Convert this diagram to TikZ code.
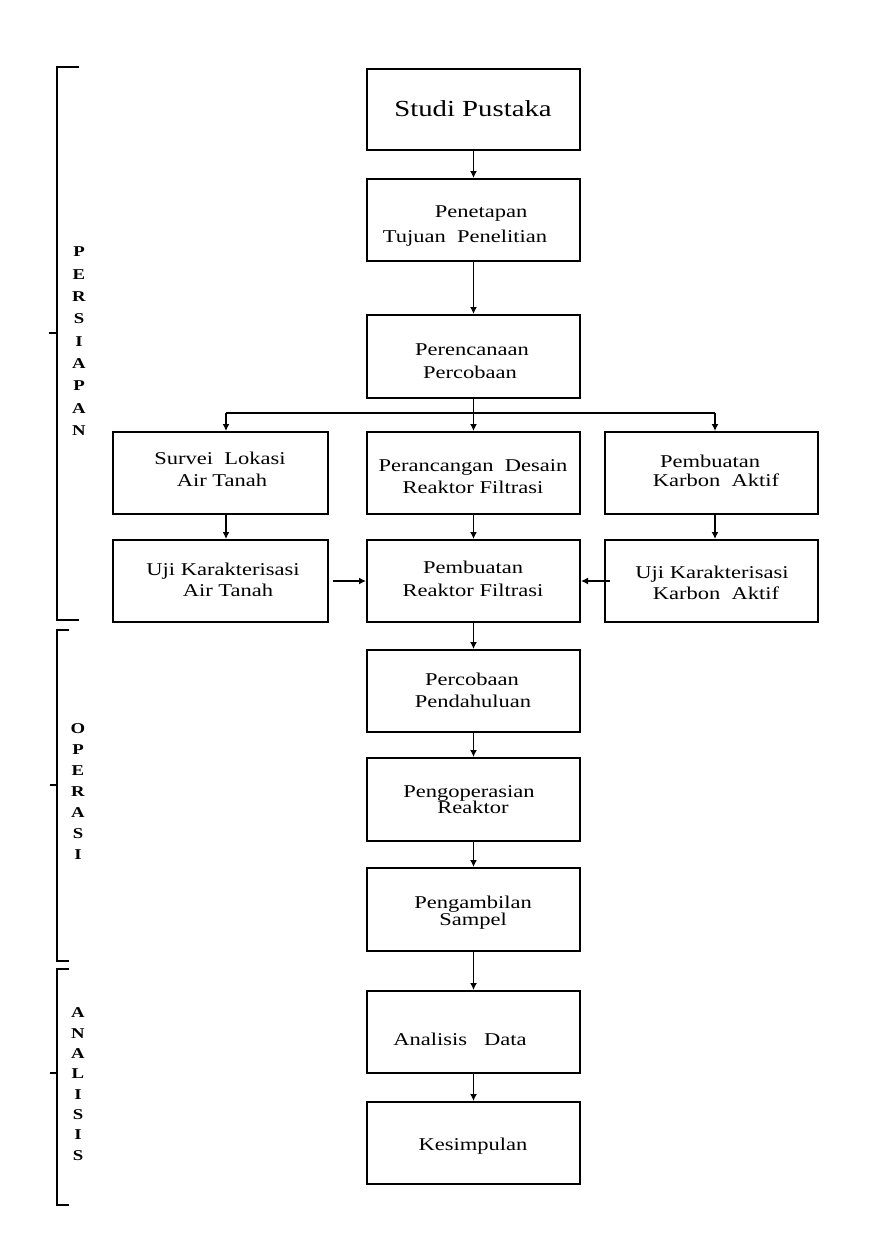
\documentclass[tikz,border=0pt]{standalone}
\usepackage{fontspec}
\setmainfont{Liberation Serif}[FakeStretch=1.25]
\usetikzlibrary{arrows.meta}
\newcommand\mybox[5]{\node[box,minimum width={(#4-#2)*0.5pt},minimum height={(#5-#3)*0.5pt}] (#1) at ({(#2+#4)/2},{(#3+#5)/2}) {};}
\begin{document}
\begin{tikzpicture}[x=0.5pt,y=-0.5pt,
  box/.style={draw=black,line width=1pt,inner sep=0pt},
  txt/.style={inner sep=0pt,font=\fontsize{9}{10}\selectfont,text height=0.7em,text depth=0.2em},
  big/.style={inner sep=0pt,font=\fontsize{11.5}{13}\selectfont,text height=0.7em,text depth=0.2em},
  arr/.style={line width=0.75pt,-{Latex[length=3.5pt,width=3.5pt]}},
  ln/.style={line width=0.75pt},
  brk/.style={line width=0.8pt},
  let/.style={inner sep=0pt,font=\bfseries\fontsize{7.5}{8}\selectfont}
]
\fill[white] (0,0) rectangle (870,1247);
\useasboundingbox (0,0) rectangle (870,1247);

% boxes
\mybox{studi}{367}{69}{580}{150}
\mybox{penet}{367}{179}{580}{261}
\mybox{peren}{367}{315}{580}{398}
\mybox{sur}{113}{432}{328}{514}
\mybox{desain}{367}{432}{580}{514}
\mybox{karb}{605}{432}{818}{514}
\mybox{ujia}{113}{540}{328}{622}
\mybox{reak}{367}{540}{580}{622}
\mybox{ujik}{605}{540}{818}{622}
\mybox{perc}{367}{650}{580}{732}
\mybox{peng}{367}{758}{580}{841}
\mybox{samp}{367}{868}{580}{951}
\mybox{anal}{367}{991}{580}{1073}
\mybox{kes}{367}{1102}{580}{1184}

% texts
\node[big] (t1) at (473,112) {Studi Pustaka};
\node[txt] (t2a) at (481,212) {Penetapan};
\node[txt] (t2b) at (465,237) {Tujuan\ \ Penelitian};
\node[txt] (t3a) at (472,350) {Perencanaan};
\node[txt] (t3b) at (470,373) {Percobaan};
\node[txt] (t4a) at (220,459) {Survei\ \ Lokasi};
\node[txt] (t4b) at (222,481) {Air Tanah};
\node[txt] (t5a) at (473,466) {Perancangan\ \ Desain};
\node[txt] (t5b) at (473,488) {Reaktor Filtrasi};
\node[txt] (t6a) at (710,462) {Pembuatan};
\node[txt] (t6b) at (716,481) {Karbon\ \ Aktif};
\node[txt] (t7a) at (223,570) {Uji Karakterisasi};
\node[txt] (t7b) at (228,591) {Air Tanah};
\node[txt] (t8a) at (473,568) {Pembuatan};
\node[txt] (t8b) at (473,591) {Reaktor Filtrasi};
\node[txt] (t9a) at (712,573) {Uji Karakterisasi};
\node[txt] (t9b) at (716,594) {Karbon\ \ Aktif};
\node[txt] (t10a) at (472,680) {Percobaan};
\node[txt] (t10b) at (473,702) {Pendahuluan};
\node[txt] (t11a) at (469,792) {Pengoperasian};
\node[txt] (t11b) at (473,808) {Reaktor};
\node[txt] (t12a) at (473,903) {Pengambilan};
\node[txt] (t12b) at (473,920) {Sampel};
\node[txt] (t13) at (460,1040) {Analisis\ \ \ Data};
\node[txt] (t14) at (473,1145) {Kesimpulan};

% connectors
\coordinate (brM) at (473.5,413);
\coordinate (brL) at (226,413);
\coordinate (brR) at (715,413);
\draw[arr] (studi) -- (penet);
\draw[arr] (penet) -- (peren);
\draw[ln] (peren.south) -- (brM);
\draw[ln] (brL) -- (brR);
\draw[arr] (brL) -- (brL |- sur.north);
\draw[arr] (brM) -- (desain.north);
\draw[arr] (brR) -- (brR |- karb.north);
\draw[arr] (sur.south -| brL) -- (ujia.north -| brL);
\draw[arr] (desain) -- (reak);
\draw[arr] (karb.south -| brR) -- (ujik.north -| brR);
\draw[arr] ([xshift=2pt]ujia.east) -- (reak.west);
\draw[arr] ([xshift=3pt]ujik.west) -- (reak.east);
\draw[arr] (reak) -- (perc);
\draw[arr] (perc) -- (peng);
\draw[arr] (peng) -- (samp);
\draw[arr] (samp) -- (anal);
\draw[arr] (anal) -- (kes);

% brackets
\draw[brk] (79,67) -- (57,67) -- (57,620) -- (79,620);
\draw[brk] (49,333) -- (57,333);
\draw[brk] (69,630) -- (57,630) -- (57,961) -- (69,961);
\draw[brk] (50,785) -- (57,785);
\draw[brk] (69,969) -- (57,969) -- (57,1205) -- (69,1205);
\draw[brk] (50,1073) -- (57,1073);

% vertical labels
\foreach \c [count=\i from 0] in {P,E,R,S,I,A,P,A,N}
  \node[let] (p\i) at (79,{252+22.3*\i}) {\c};
\foreach \c [count=\i from 0] in {O,P,E,R,A,S,I}
  \node[let] (o\i) at (78,{729+20.9*\i}) {\c};
\foreach \c [count=\i from 0] in {A,N,A,L,I,S,I,S}
  \node[let] (a\i) at (78,{1013+20.3*\i}) {\c};
\end{tikzpicture}
\end{document}
